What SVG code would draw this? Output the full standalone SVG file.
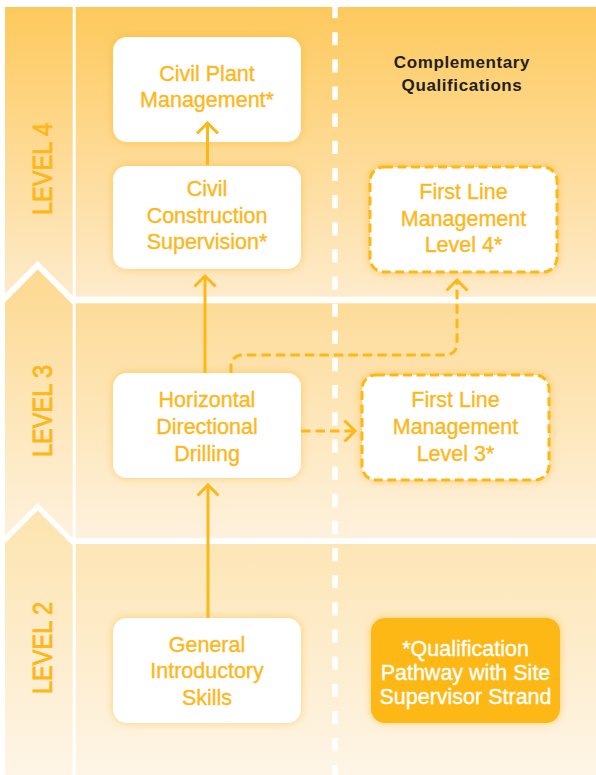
<svg xmlns="http://www.w3.org/2000/svg" width="596" height="775" viewBox="0 0 596 775">
<defs>
  <linearGradient id="g4" gradientUnits="userSpaceOnUse" x1="0" y1="7" x2="0" y2="296">
    <stop offset="0" stop-color="#FDC95C"/>
    <stop offset="1" stop-color="#FEEBCB"/>
  </linearGradient>
  <linearGradient id="g3" gradientUnits="userSpaceOnUse" x1="0" y1="270" x2="0" y2="538">
    <stop offset="0" stop-color="#FDD98F"/>
    <stop offset="1" stop-color="#FEF1DD"/>
  </linearGradient>
  <linearGradient id="g2" gradientUnits="userSpaceOnUse" x1="0" y1="511" x2="0" y2="775">
    <stop offset="0" stop-color="#FDE4AF"/>
    <stop offset="1" stop-color="#FEF5E7"/>
  </linearGradient>
  <filter id="glow" x="-20%" y="-20%" width="140%" height="140%">
    <feDropShadow dx="0" dy="0" stdDeviation="4.5" flood-color="#F6A800" flood-opacity="0.45"/>
  </filter>
  <marker id="arr" markerUnits="userSpaceOnUse" markerWidth="30" markerHeight="30" viewBox="-15 -15 30 30" refX="0" refY="0" orient="auto" overflow="visible">
    <path d="M-10.5,-10.5 L0,0 L-10.5,10.5" fill="none" stroke="#FDB817" stroke-width="3"/>
  </marker>
  <style>
    .box { fill: #FFFFFF; filter: url(#glow); }
    .dbox { fill: #FFFFFF; stroke: #FDB817; stroke-width: 3; stroke-dasharray: 9 4.5; filter: url(#glow); }
    .fbox { fill: #FDB817; filter: url(#glow); }
    .t { font-family: "Liberation Sans", Arial, sans-serif; font-size: 21.5px; fill: #FDB71A; stroke: #FDB71A; stroke-width: 0.35px; text-anchor: middle; }
    .tw { fill: #FFFFFF; stroke: #FFFFFF; }
    .lvl { font-family: "Liberation Sans", Arial, sans-serif; font-size: 27.5px; fill: #FDB71A; stroke: #FDB71A; stroke-width: 0.8px; }
    .hdr { font-family: "Liberation Sans", Arial, sans-serif; font-size: 17px; font-weight: bold; letter-spacing: 0.6px; fill: #231F20; text-anchor: middle; }
    .solid { fill: none; stroke: #FDB817; stroke-width: 3; marker-end: url(#arr); }
    .dash { fill: none; stroke: #FDB817; stroke-width: 3; stroke-dasharray: 9.5 5; marker-end: url(#arr); }
  </style>
</defs>

<rect x="0" y="0" width="596" height="775" fill="#FFFFFF"/>

<g id="bands">
  <rect x="75.7" y="7" width="520.3" height="289.7" fill="url(#g4)"/>
  <rect x="75.7" y="303.3" width="520.3" height="234.7" fill="url(#g3)"/>
  <rect x="75.7" y="544" width="520.3" height="231" fill="url(#g2)"/>
  <polygon points="5,7 72.7,7 72.7,296 37.7,261 5,293.7" fill="url(#g4)"/>
  <polygon points="5,302.2 37.7,269.5 72.7,304.5 72.7,538 37.7,503 5,535.7" fill="url(#g3)"/>
  <polygon points="5,543.2 37.7,510.5 72.7,545.5 72.7,775 5,775" fill="url(#g2)"/>
  <line x1="335" y1="5" x2="335" y2="775" stroke="#FFFFFF" stroke-width="5.5" stroke-dasharray="13.2 13.95"/>
</g>

<g id="levels">
  <text class="lvl" transform="translate(51.5,169) rotate(-90)" x="-46" y="0" textLength="92" lengthAdjust="spacingAndGlyphs">LEVEL 4</text>
  <text class="lvl" transform="translate(51.5,411) rotate(-90)" x="-46" y="0" textLength="92" lengthAdjust="spacingAndGlyphs">LEVEL 3</text>
  <text class="lvl" transform="translate(51.5,648) rotate(-90)" x="-46" y="0" textLength="92" lengthAdjust="spacingAndGlyphs">LEVEL 2</text>
</g>

<g id="header">
  <text class="hdr" x="462" y="68">Complementary</text>
  <text class="hdr" x="462" y="91">Qualifications</text>
</g>

<g id="civil-plant-management">
  <rect class="box" x="113" y="37" width="188" height="105" rx="14"/>
  <text class="t" x="207" y="81">Civil Plant</text>
  <text class="t" x="207" y="107">Management*</text>
</g>

<g id="civil-construction-supervision">
  <rect class="box" x="113" y="166" width="188" height="103" rx="14"/>
  <text class="t" x="207" y="196">Civil</text>
  <text class="t" x="207" y="222.7">Construction</text>
  <text class="t" x="207" y="249.3">Supervision*</text>
</g>

<g id="horizontal-directional-drilling">
  <rect class="box" x="113" y="373" width="188" height="105" rx="14"/>
  <text class="t" x="207" y="407">Horizontal</text>
  <text class="t" x="207" y="434">Directional</text>
  <text class="t" x="207" y="461">Drilling</text>
</g>

<g id="general-introductory-skills">
  <rect class="box" x="113" y="618" width="188" height="105" rx="14"/>
  <text class="t" x="207" y="651.5">General</text>
  <text class="t" x="207" y="678">Introductory</text>
  <text class="t" x="207" y="704.5">Skills</text>
</g>

<g id="first-line-management-4">
  <rect class="dbox" x="370" y="167" width="187" height="105" rx="14"/>
  <text class="t" x="463.5" y="199">First Line</text>
  <text class="t" x="463.5" y="226">Management</text>
  <text class="t" x="463.5" y="252">Level 4*</text>
</g>

<g id="first-line-management-3">
  <rect class="dbox" x="362" y="375" width="187" height="105" rx="14"/>
  <text class="t" x="455.5" y="406.7">First Line</text>
  <text class="t" x="455.5" y="434">Management</text>
  <text class="t" x="455.5" y="460.7">Level 3*</text>
</g>

<g id="qualification-pathway">
  <rect class="fbox" x="371" y="618" width="189" height="105" rx="14"/>
  <text class="t tw" x="465.5" y="656">*Qualification</text>
  <text class="t tw" x="465.5" y="680">Pathway with Site</text>
  <text class="t tw" x="465.5" y="704">Supervisor Strand</text>
</g>

<g id="connectors">
  <path class="solid" d="M207.5,165 V123"/>
  <path class="solid" d="M205,373 V276"/>
  <path class="solid" d="M208,618 V485"/>
  <path class="dash" d="M301,431 H355"/>
  <path class="dash" d="M231,373 V366 A11,11 0 0 1 242,355 H446 A11,11 0 0 0 457,344 V280"/>
</g>
</svg>
